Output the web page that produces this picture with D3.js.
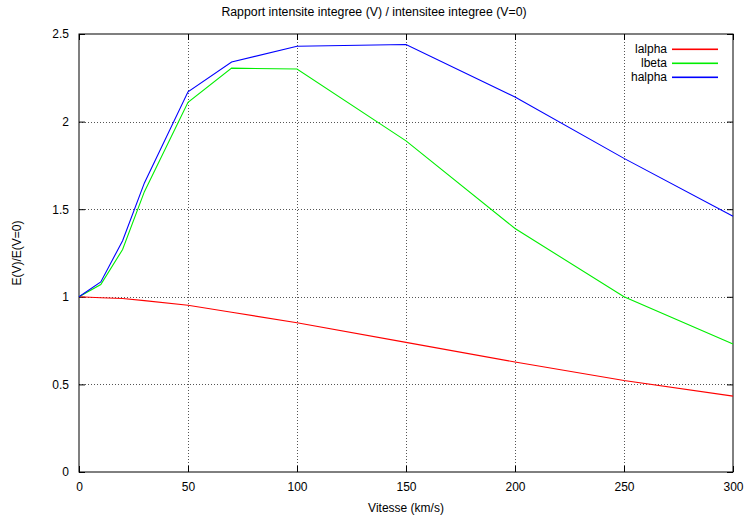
<!DOCTYPE html>
<html>
<head>
<script src="https://d3js.org/d3.v7.min.js"></script>
<style>
body { margin: 0; background: #fff; }
text { font-family: "Liberation Sans", Arial, sans-serif; font-size: 12px; }
</style>
</head>
<body>
<div id="graph"></div>
<script>
var w = 749, h = 520;
var margin = {left: 79, right: 16, top: 34, bottom: 48};

var vitesse = [0, 10, 20, 30, 50, 70, 100, 150, 200, 250, 300];
var lalpha = [1, 0.995, 0.99, 0.978, 0.952, 0.912, 0.852, 0.74, 0.628, 0.522, 0.433];
var lbeta  = [1, 1.07, 1.27, 1.6, 2.11, 2.305, 2.30, 1.89, 1.39, 1.0, 0.73];
var halpha = [1, 1.085, 1.32, 1.65, 2.17, 2.34, 2.43, 2.44, 2.14, 1.79, 1.46];
var xTicks = [0, 50, 100, 150, 200, 250, 300];
var yTicks = [0, 0.5, 1, 1.5, 2, 2.5];
var names = ["lalpha", "lbeta", "halpha"];
var colors = ["#ff0000", "#00ee00", "#0000ff"];
var values = [lalpha, lbeta, halpha];

var svg = d3.select("#graph").append("svg")
  .attr("width", w).attr("height", h);

var x = d3.scaleLinear().domain([0, 300]).range([margin.left, w - margin.right]);
var y = d3.scaleLinear().domain([0, 2.5]).range([h - margin.bottom, margin.top]);

// grid
svg.append("g").selectAll("line").data(xTicks.slice(1, -1)).enter().append("line")
  .attr("x1", d => x(d) + 0.5).attr("x2", d => x(d) + 0.5)
  .attr("y1", y(0)).attr("y2", y(2.5))
  .attr("stroke", "#555").attr("stroke-dasharray", "1,2");
svg.append("g").selectAll("line").data(yTicks.slice(1, -1)).enter().append("line")
  .attr("y1", d => Math.round(y(d)) + 0.5).attr("y2", d => Math.round(y(d)) + 0.5)
  .attr("x1", x(0)).attr("x2", x(300))
  .attr("stroke", "#555").attr("stroke-dasharray", "1,2");

// axes (ticks inside, mirrored)
svg.append("g").attr("transform", "translate(0," + y(0) + ")")
  .call(d3.axisBottom(x).tickValues(xTicks).tickSizeInner(-6).tickSizeOuter(0).tickPadding(10))
  .call(g => g.select(".domain").remove());
svg.append("g").attr("transform", "translate(0," + y(2.5) + ")")
  .call(d3.axisTop(x).tickValues(xTicks).tickSizeInner(-6).tickSizeOuter(0).tickFormat(""))
  .call(g => g.select(".domain").remove());
svg.append("g").attr("transform", "translate(" + x(0) + ",0)")
  .call(d3.axisLeft(y).tickValues(yTicks).tickSizeInner(-6).tickSizeOuter(0).tickPadding(10).tickFormat(d3.format("")))
  .call(g => g.select(".domain").remove());
svg.append("g").attr("transform", "translate(" + x(300) + ",0)")
  .call(d3.axisRight(y).tickValues(yTicks).tickSizeInner(-6).tickSizeOuter(0).tickFormat(""))
  .call(g => g.select(".domain").remove());
svg.selectAll(".tick text").style("font-size", "12px")
  .style("font-family", "'Liberation Sans', Arial, sans-serif").attr("fill", "#000");

svg.append("rect")
  .attr("x", x(0)).attr("y", y(2.5))
  .attr("width", x(300) - x(0)).attr("height", y(0) - y(2.5))
  .attr("fill", "none").attr("stroke", "#000");

// lines
var line = d3.line().x((d, i) => x(vitesse[i])).y(d => y(d));
values.forEach(function(v, k) {
  svg.append("path")
    .attr("d", line(v))
    .attr("fill", "none").attr("stroke", colors[k]).attr("stroke-width", 1.1);
});

// legend
names.forEach(function(n, k) {
  var yy = 49 + k * 14;
  svg.append("text").attr("x", 667).attr("y", yy + 4).attr("text-anchor", "end").text(n);
  svg.append("rect").attr("x", 672).attr("y", yy - 0.5).attr("width", 46).attr("height", 1.6)
    .attr("fill", colors[k]);
});

// labels
svg.append("text").attr("x", 374).attr("y", 16).attr("text-anchor", "middle")
  .style("font-size", "12.3px")
  .text("Rapport intensite integree (V) / intensitee integree (V=0)");
svg.append("text").attr("x", x(150)).attr("y", 512).attr("text-anchor", "middle")
  .text("Vitesse (km/s)");
svg.append("text").attr("transform", "translate(21," + y(1.25) + ") rotate(-90)")
  .attr("text-anchor", "middle").text("E(V)/E(V=0)");
</script>
</body>
</html>
